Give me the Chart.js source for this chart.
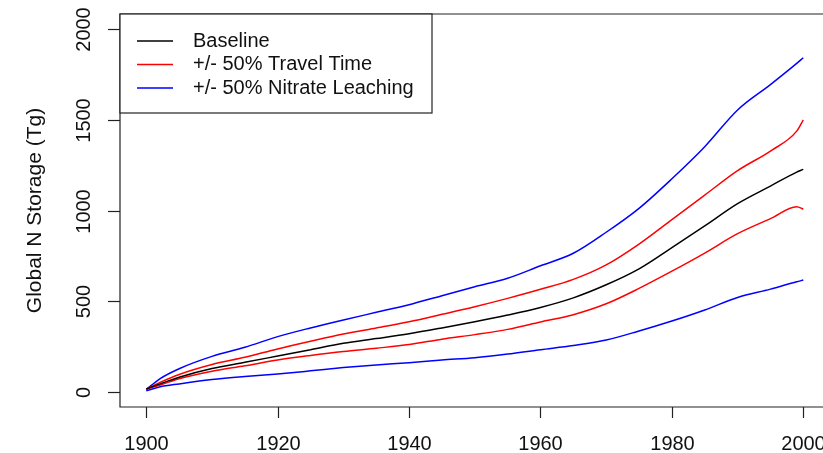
<!DOCTYPE html>
<html>
<head>
<meta charset="utf-8">
<script src="https://cdn.jsdelivr.net/npm/chart.js@4.4.1/dist/chart.umd.min.js"></script>
<style>
  html, body { margin: 0; padding: 0; background: #fff; }
  canvas { display: block; }
</style>
</head>
<body>
<canvas id="nChart" width="823" height="453"></canvas>
<script>
// Global N storage, 1900-2000
const years = [1900, 1902, 1905, 1910, 1915, 1920, 1925, 1930, 1935, 1940, 1945, 1950,
               1955, 1960, 1965, 1970, 1975, 1980, 1985, 1990, 1995, 1999, 2000];

const baseline   = [15, 42, 80, 128, 162, 197, 232, 267, 293, 320, 352, 386,
                    423, 465, 518, 590, 678, 795, 915, 1038, 1135, 1212, 1227];
const travelHigh = [15, 50, 95, 150, 190, 236, 278, 318, 352, 386, 427, 469,
                    515, 565, 620, 700, 815, 950, 1085, 1220, 1328, 1438, 1500];
const travelLow  = [15, 36, 72, 113, 143, 175, 200, 222, 240, 260, 290, 315,
                    344, 385, 425, 485, 570, 665, 765, 872, 955, 1021, 1007];
const leachHigh  = [12, 70, 127, 195, 245, 304, 352, 396, 438, 480, 530, 579,
                    626, 695, 764, 880, 1012, 1175, 1352, 1555, 1695, 1812, 1843];
const leachLow   = [5, 26, 43, 67, 84, 98, 115, 133, 148, 160, 175, 188,
                    208, 232, 255, 285, 335, 390, 451, 520, 566, 607, 616];

const xTicks = [1900, 1920, 1940, 1960, 1980, 2000];
const yTicks = [0, 500, 1000, 1500, 2000];

const legendLabels = ['Baseline', '+/- 50% Travel Time', '+/- 50% Nitrate Leaching'];
const legendColors = ['#000000', '#ff0000', '#0000ff'];

const FONT = '"Liberation Sans", Arial, Helvetica, sans-serif';

function toPoints(values) {
    return values.map((v, i) => ({ x: years[i], y: v }));
}

function line(label, values, color) {
    return {
        label: label,
        data: toPoints(values),
        borderColor: color,
        borderWidth: 1.5,
        pointRadius: 0,
        fill: false,
        cubicInterpolationMode: 'monotone'
    };
}

// R-style box, ticks, labels and legend
const rFrame = {
    id: 'rFrame',
    afterDraw(chart) {
        const c = chart.ctx;
        const a = chart.chartArea;
        const xs = chart.scales.x;
        const ys = chart.scales.y;

        c.save();
        c.strokeStyle = '#222';
        c.lineWidth = 1.2;

        // plot box (right edge falls outside the canvas)
        c.beginPath();
        c.moveTo(a.right + 10, a.top);
        c.lineTo(a.left, a.top);
        c.lineTo(a.left, a.bottom);
        c.lineTo(a.right + 10, a.bottom);
        c.stroke();

        c.fillStyle = '#111';
        c.font = '20px ' + FONT;

        // x axis
        c.textAlign = 'center';
        c.textBaseline = 'middle';
        xTicks.forEach(t => {
            const px = Math.round(xs.getPixelForValue(t)) + 0.5;
            c.beginPath();
            c.moveTo(px, a.bottom);
            c.lineTo(px, a.bottom + 11);
            c.stroke();
            c.fillText(String(t), px, 444);
        });

        // y axis
        yTicks.forEach(t => {
            const py = Math.round(ys.getPixelForValue(t)) + 0.5;
            c.beginPath();
            c.moveTo(a.left, py);
            c.lineTo(a.left - 12, py);
            c.stroke();
            c.save();
            c.translate(84, py);
            c.rotate(-Math.PI / 2);
            c.fillText(String(t), 0, 0);
            c.restore();
        });

        // y title
        c.save();
        c.font = '21px ' + FONT;
        c.translate(35, (a.top + a.bottom) / 2);
        c.rotate(-Math.PI / 2);
        c.fillText('Global N Storage (Tg)', 0, 0);
        c.restore();

        // legend
        c.fillStyle = '#fff';
        c.fillRect(a.left, a.top, 312, 99);
        c.strokeStyle = '#222';
        c.strokeRect(a.left, a.top, 312, 99);
        c.font = '20px ' + FONT;
        c.textAlign = 'left';
        legendLabels.forEach((lab, i) => {
            const y = 41 + i * 23.5;
            c.strokeStyle = legendColors[i];
            c.lineWidth = 1.5;
            c.beginPath();
            c.moveTo(137, y);
            c.lineTo(173, y);
            c.stroke();
            c.fillStyle = '#111';
            c.fillText(lab, 193, y);
        });
        c.restore();
    }
};

new Chart(document.getElementById('nChart'), {
    type: 'line',
    data: {
        datasets: [
            line('Baseline', baseline, '#000000'),
            line('+/- 50% Travel Time', travelHigh, '#ff0000'),
            line('+/- 50% Travel Time', travelLow, '#ff0000'),
            line('+/- 50% Nitrate Leaching', leachHigh, '#0000ff'),
            line('+/- 50% Nitrate Leaching', leachLow, '#0000ff')
        ]
    },
    options: {
        responsive: false,
        animation: false,
        layout: { padding: { left: 120, top: 14, right: 0, bottom: 46 } },
        scales: {
            x: { type: 'linear', min: 1896, max: 2003, display: false },
            y: { min: -84.4, max: 2084.4, display: false }
        },
        plugins: {
            legend: { display: false },
            tooltip: { enabled: false }
        }
    },
    plugins: [rFrame]
});
</script>
</body>
</html>
